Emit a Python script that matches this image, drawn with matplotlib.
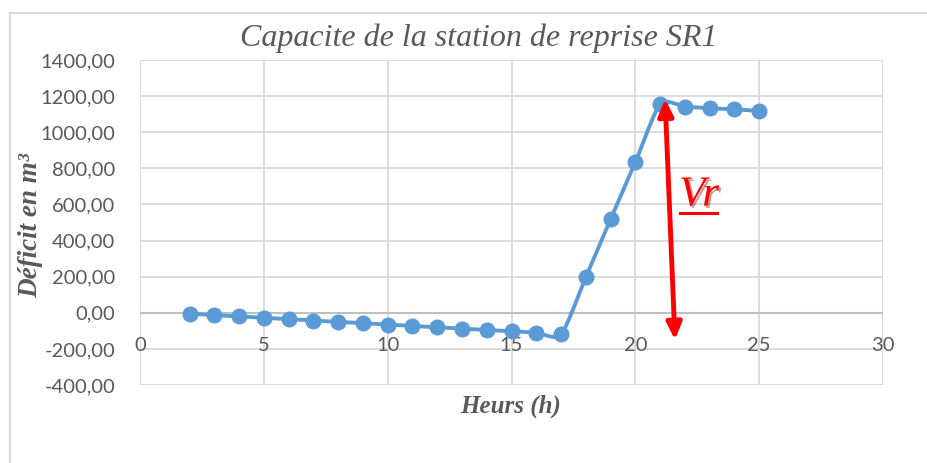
import numpy as np
import matplotlib
matplotlib.use("Agg")
import matplotlib.pyplot as plt
from matplotlib import patheffects
from matplotlib.lines import Line2D

# Hourly cumulative deficit of the SR1 pumping station
hours = [2, 3, 4, 5, 6, 7, 8, 9, 10, 11, 12, 13, 14, 15, 16, 17,
         18, 19, 20, 21, 22, 23, 24, 25]
deficit = [-5, -13, -20, -28, -35, -43, -50, -58, -65, -73, -80, -88,
           -95, -102, -110, -120, 197, 518, 834, 1155, 1142, 1133, 1127, 1118]

x_ticks = [0, 5, 10, 15, 20, 25, 30]
y_ticks = [-400, -200, 0, 200, 400, 600, 800, 1000, 1200, 1400]

# Arrow showing the reservoir volume Vr
vr_top = (21.2, 1185)
vr_bottom = (21.6, -150)

TICK_COLOR = "#595959"
GRID_COLOR = "#d9d9d9"
LINE_COLOR = "#5b9bd5"


def smooth_curve(x, y, steps=20, tension=0.7):
    """Bezier smoothing through every point (Catmull-Rom tangents)."""
    x = np.asarray(x, float)
    y = np.asarray(y, float)
    px = np.concatenate([[x[0]], x, [x[-1]]])
    py = np.concatenate([[y[0]], y, [y[-1]]])
    out_x, out_y = [], []
    t = np.linspace(0, 1, steps, endpoint=False)
    k = tension / 6
    for i in range(1, len(px) - 2):
        p0 = np.array([px[i], py[i]])
        p3 = np.array([px[i + 1], py[i + 1]])
        c1 = p0 + k * (p3 - np.array([px[i - 1], py[i - 1]]))
        c2 = p3 - k * (np.array([px[i + 2], py[i + 2]]) - p0)
        b = ((1 - t) ** 3)[:, None] * p0 + (3 * (1 - t) ** 2 * t)[:, None] * c1 \
            + (3 * (1 - t) * t ** 2)[:, None] * c2 + (t ** 3)[:, None] * p3
        out_x.extend(b[:, 0])
        out_y.extend(b[:, 1])
    out_x.append(x[-1])
    out_y.append(y[-1])
    return out_x, out_y


fig = plt.figure(figsize=(9.27, 4.63), dpi=100)
fig.patch.set_facecolor("white")

# Chart frame
fig.add_artist(Line2D([10 / 927, 1.0], [1 - 13 / 463, 1 - 13 / 463],
                      transform=fig.transFigure, color=GRID_COLOR, lw=1.5))
fig.add_artist(Line2D([10 / 927, 10 / 927], [0, 1 - 13 / 463],
                      transform=fig.transFigure, color=GRID_COLOR, lw=1.5))

ax = fig.add_axes([140 / 927, 1 - 385 / 463, 743 / 927, 325 / 463])
ax.set_xlim(0, 30)
ax.set_ylim(-400, 1400)
ax.set_xticks(x_ticks)
ax.set_yticks(y_ticks)
ax.grid(True, color=GRID_COLOR, lw=1.3)
ax.set_axisbelow(True)
for side in ["top", "right", "left", "bottom"]:
    ax.spines[side].set_visible(False)
ax.axhline(0, color="#bfbfbf", lw=1.5, zorder=1)
ax.tick_params(length=0)

tick_font = dict(family="Lato", size=14.5, color=TICK_COLOR)
ax.set_yticklabels([f"{v:.2f}".replace(".", ",") for v in y_ticks], **tick_font)
ax.tick_params(axis="y", pad=18)
ax.set_xticklabels([])
for xv in x_ticks:
    ax.annotate(str(xv), xy=(xv, 0), xytext=(0, -23.5), textcoords="offset points",
                ha="center", va="center", **tick_font)

sx, sy = smooth_curve(hours, deficit)
ax.plot(sx, sy, color=LINE_COLOR, lw=2.8, zorder=3, solid_capstyle="round")
ax.plot(hours, deficit, "o", color=LINE_COLOR, ms=10.5, zorder=4)

# Double-headed arrow for Vr
ax.annotate("", xy=vr_top, xytext=vr_bottom,
            arrowprops=dict(arrowstyle="<|-|>,head_length=1.0,head_width=0.45",
                            color="#ff0000", lw=3.5, shrinkA=0, shrinkB=0),
            zorder=5)
shadow = [patheffects.withSimplePatchShadow(offset=(1.5, -1.5),
                                            shadow_rgbFace="#800000", alpha=0.4)]
vr = ax.text(22.57, 650, "Vr", ha="center", va="center", color="#ff0000",
             fontsize=31, family="Liberation Serif", style="italic", zorder=5)
vr.set_path_effects(shadow)
ax.plot([21.8, 23.3], [555, 555], color="#ff0000", lw=2.2, zorder=5,
        path_effects=shadow)

fig.text(479 / 927, 1 - 38 / 463, "Capacite de la station de reprise SR1",
         ha="center", va="center", family="Liberation Serif", style="italic",
         fontsize=23, color=TICK_COLOR)
fig.text(31 / 927, 1 - 226 / 463, "Déficit en m³", rotation=90,
         ha="center", va="center", family="Liberation Serif", style="italic",
         weight="bold", fontsize=19.5, color=TICK_COLOR)
fig.text(511 / 927, 1 - 406 / 463, "Heurs (h)", ha="center", va="center",
         family="Liberation Serif", style="italic", weight="bold",
         fontsize=18, color=TICK_COLOR)

fig.savefig("out.png", dpi=100, facecolor="white")
